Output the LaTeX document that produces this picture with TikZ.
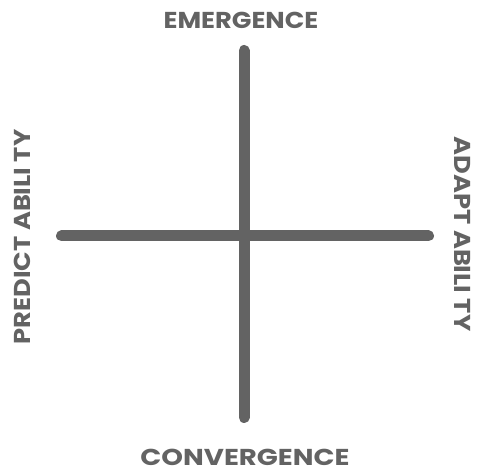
\documentclass[tikz,border=0pt]{standalone}
\usepackage{fontspec}
\setmainfont{Poppins}[BoldFont={* Bold}]
\usepackage{tikz}
\usetikzlibrary{positioning}
\definecolor{axisgray}{RGB}{99,99,99}

\begin{document}
\begin{tikzpicture}[
  x=1pt, y=1pt,
  axis/.style={line width=11pt, line cap=round, axisgray},
  label/.style={font=\bfseries\fontsize{23}{23}\selectfont, text=axisgray,
    inner sep=0pt, text depth=0pt, anchor=base}
]
  \useasboundingbox (0,0) rectangle (482,474);

  % Axis ends
  \coordinate (top) at (244,423.5);
  \coordinate (bottom) at (244,56.5);
  \coordinate (left) at (61.5,238);
  \coordinate (right) at (428.5,238);

  % Axes
  \draw[axis] (top) -- (bottom);
  \draw[axis] (left) -- (right);

  % Labels
  \node[label, xscale=1.12] (emerg) at (241,445) {EMERGENCE};
  \node[label, xscale=1.2] (conv) at (245,9) {CONVERGENCE};
  \node[label, rotate=90, xscale=1.12] (pred) at (30,237) {PREDICT ABILI TY};
  \node[label, rotate=-90, xscale=1.12] (adapt) at (454,240) {ADAPT ABILI TY};
\end{tikzpicture}
\end{document}
